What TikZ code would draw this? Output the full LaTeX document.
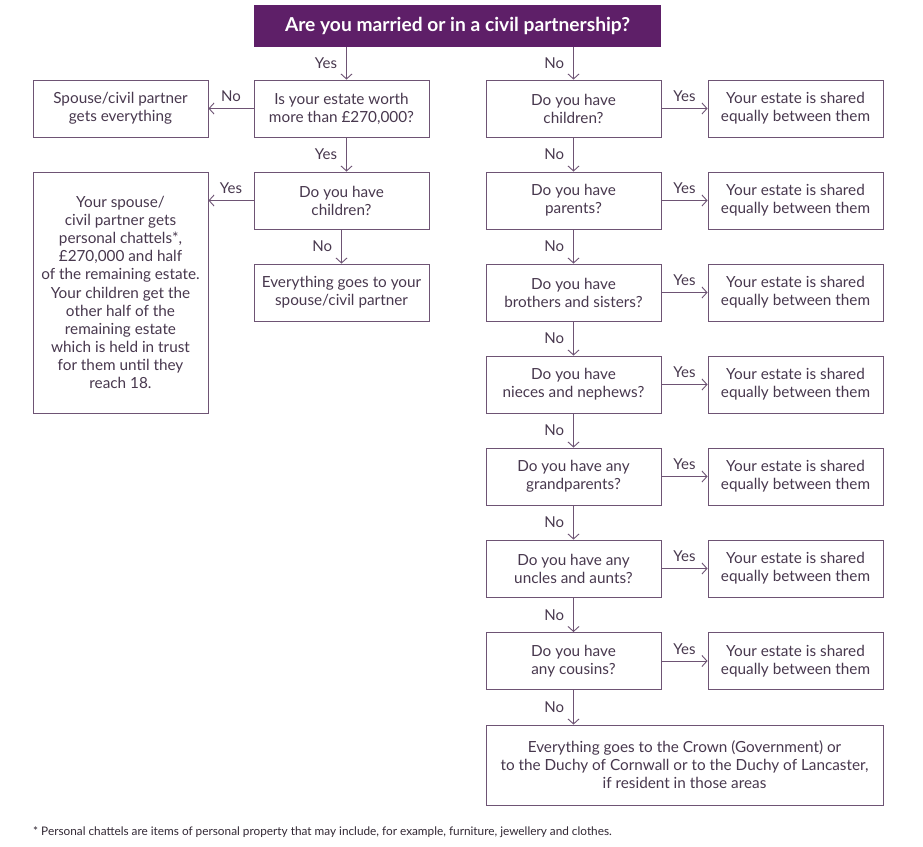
\documentclass[tikz,border=0pt]{standalone}
\usepackage{fontspec}
\setmainfont{Lato}
\usetikzlibrary{arrows.meta}
\definecolor{hdr}{RGB}{94,31,104}
\definecolor{boxc}{RGB}{110,84,116}
\definecolor{txt}{RGB}{72,56,78}
\definecolor{foot}{RGB}{50,40,52}
\begin{document}
\begin{tikzpicture}[x=1pt,y=-1pt,
  box/.style={draw=boxc, line width=0.9pt, rectangle, minimum width=175pt, minimum height=57pt,
    align=center, text=txt, inner sep=2pt, font=\fontsize{15.3}{18}\selectfont},
  conn/.style={draw=boxc, line width=0.9pt, -{Straight Barb[length=5pt,width=11pt,line width=0.9pt]}},
  lab/.style={text=txt, font=\fontsize{15}{16}\selectfont, inner sep=0pt}]
\useasboundingbox[fill=white] (0,0) rectangle (923,846);
% header
\node[fill=hdr, minimum width=407pt, minimum height=42pt, text=white, font=\fontsize{19.2}{22}\bfseries\selectfont, inner sep=0pt] (h) at (457.5,26) {Are you married or in a civil partnership?};
% middle column
\node[box] (m1) at (341.5,108.5) {Is your estate worth\\more than £270,000?};
\node[box] (m2) at (341.5,200.5) {Do you have\\children?};
\node[box] (m3) at (341.5,292.5) {Everything goes to your\\spouse/civil partner};
% left column
\node[box] (l1) at (120.5,108.5) {Spouse/civil partner\\gets everything};
\node[box, minimum height=241pt, font=\fontsize{15.3}{18.1}\selectfont] (l2) at (120.5,292.5) {Your spouse/\\civil partner gets\\personal chattels*,\\£270,000 and half\\of the remaining estate.\\Your children get the\\other half of the\\remaining estate\\which is held in trust\\for them until they\\reach 18.};
% right column
\node[box] (r1) at (573.5,108.5) {Do you have\\children?};
\node[box] (r2) at (573.5,200.5) {Do you have\\parents?};
\node[box] (r3) at (573.5,292.5) {Do you have\\brothers and sisters?};
\node[box] (r4) at (573.5,384.5) {Do you have\\nieces and nephews?};
\node[box] (r5) at (573.5,476.5) {Do you have any\\grandparents?};
\node[box] (r6) at (573.5,568.5) {Do you have any\\uncles and aunts?};
\node[box] (r7) at (573.5,661) {Do you have\\any cousins?};
\foreach \i/\y in {1/108.5,2/200.5,3/292.5,4/384.5,5/476.5,6/568.5,7/661}{
  \node[box] (s\i) at (795.5,\y) {Your estate is shared\\equally between them};
  \draw[conn] (r\i.east) -- node[lab, above=6pt, pos=0.5] {Yes} (s\i.west);
}
\node[box, minimum width=397pt, minimum height=80pt] (fin) at (684.5,765) {Everything goes to the Crown (Government) or\\to the Duchy of Cornwall or to the Duchy of Lancaster,\\if resident in those areas};
% vertical connectors
\draw[conn] ([xshift=-111pt]h.south) -- node[lab, left=9pt, pos=0.5] {Yes} ([xshift=5pt]m1.north);
\draw[conn] ([xshift=5pt]m1.south) -- node[lab, left=9pt, pos=0.5] {Yes} ([xshift=5pt]m2.north);
\draw[conn] (m2.south) -- node[lab, left=9pt, pos=0.5] {No} (m3.north);
\draw[conn] (h.south -| r1.north) -- node[lab, left=9pt, pos=0.5] {No} (r1.north);
\foreach \a/\b in {r1/r2,r2/r3,r3/r4,r4/r5,r5/r6,r6/r7,r7/fin}{
  \draw[conn] (\a.south) -- node[lab, left=9pt, pos=0.5] {No} (\a.south |- \b.north);
}
% horizontal left connectors
\draw[conn] (m1.west) -- node[lab, above=6pt, pos=0.5] {No} (l1.east);
\draw[conn] (m2.west) -- node[lab, above=6pt, pos=0.5] {Yes} (l1.east |- m2.west);
% footnote
\node[anchor=west, text=foot, font=\fontsize{11.8}{13}\selectfont, inner sep=0pt] (fn) at (33,832) {* Personal chattels are items of personal property that may include, for example, furniture, jewellery and clothes.};
\end{tikzpicture}
\end{document}
